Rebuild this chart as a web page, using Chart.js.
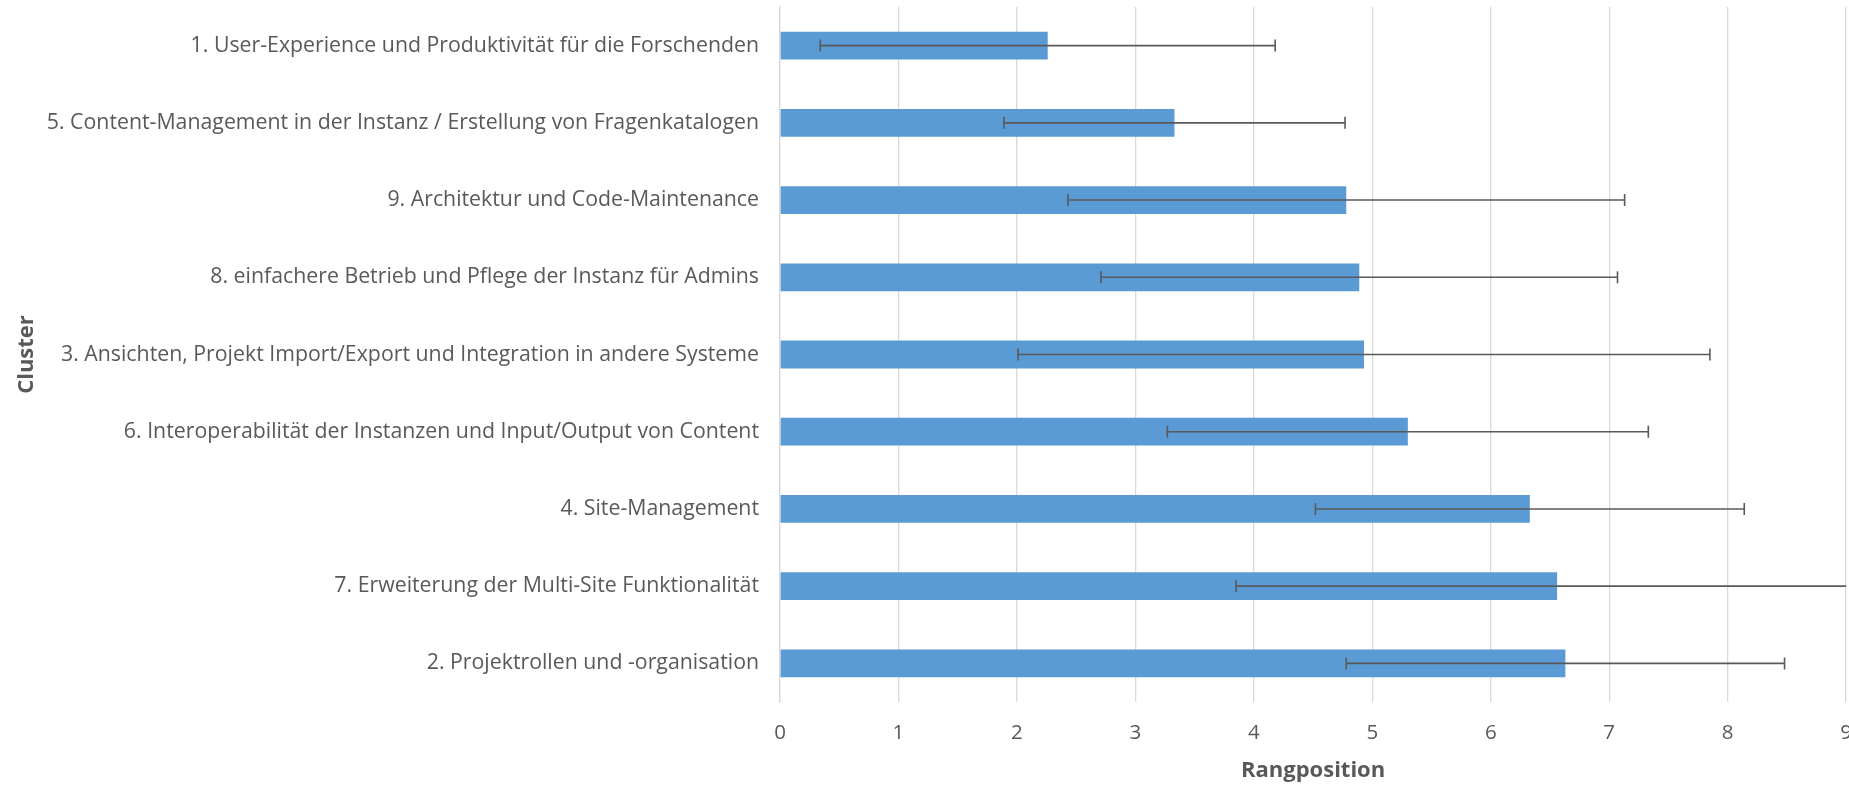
<!DOCTYPE html>
<html>
<head>
<meta charset="utf-8">
<script src="https://cdn.jsdelivr.net/npm/chart.js@4/dist/chart.umd.min.js"></script>
<style>
    html, body { margin: 0; padding: 0; background: #fff; overflow: hidden; }
    #wrap { position: relative; width: 1871px; height: 787px; }
</style>
</head>
<body>
<div id="wrap"><canvas id="js--chart"></canvas></div>
<script>
const labels = [
    "1. User-Experience und Produktivität für die Forschenden",
    "5. Content-Management in der Instanz / Erstellung von Fragenkatalogen",
    "9. Architektur und Code-Maintenance",
    "8. einfachere Betrieb und Pflege der Instanz für Admins",
    "3. Ansichten, Projekt Import/Export und Integration in andere Systeme",
    "6. Interoperabilität der Instanzen und Input/Output von Content",
    "4. Site-Management",
    "7. Erweiterung der Multi-Site Funktionalität",
    "2. Projektrollen und -organisation"
];

const means = [2.26, 3.33, 4.78, 4.89, 4.93, 5.30, 6.33, 6.56, 6.63];
const deviations = [1.92, 1.44, 2.35, 2.18, 2.92, 2.03, 1.81, 2.71, 1.85];

const xTicks = [0, 1, 2, 3, 4, 5, 6, 7, 8, 9];

const fontFamily = "'Open Sans', sans-serif";
const textColor = '#595959';

// error bars (mean +/- sd) drawn on top of the bars
const errorBars = {
    id: 'errorBars',
    afterDatasetsDraw(chart) {
        const ctx = chart.ctx;
        const area = chart.chartArea;
        const x = chart.scales.x;
        const meta = chart.getDatasetMeta(0);
        ctx.save();
        ctx.beginPath();
        ctx.rect(area.left, area.top - 10, area.right - area.left, area.bottom - area.top + 20);
        ctx.clip();
        ctx.strokeStyle = '#595959';
        ctx.lineWidth = 1.6;
        meta.data.forEach(function (bar, i) {
            const y = bar.y;
            const lo = x.getPixelForValue(means[i] - deviations[i]);
            const hi = x.getPixelForValue(means[i] + deviations[i]);
            ctx.beginPath();
            ctx.moveTo(lo, y);
            ctx.lineTo(hi, y);
            ctx.moveTo(lo, y - 6);
            ctx.lineTo(lo, y + 6);
            ctx.moveTo(hi, y - 6);
            ctx.lineTo(hi, y + 6);
            ctx.stroke();
        });
        ctx.restore();
    }
};

const data = {
    labels: labels,
    datasets: [{
        label: "Rangposition",
        data: means,
        backgroundColor: '#5b9bd5',
        borderWidth: 0,
        barPercentage: 0.36,
        categoryPercentage: 1
    }]
};

const config = {
    type: 'bar',
    data: data,
    options: {
        indexAxis: 'y',
        responsive: true,
        maintainAspectRatio: false,
        animation: false,
        layout: { padding: { top: 7, right: 0, bottom: 5, left: 14 } },
        plugins: {
            legend: { display: false },
            tooltip: { enabled: false }
        },
        scales: {
            x: {
                min: 0,
                max: 9,
                afterBuildTicks: function (axis) {
                    axis.ticks = xTicks.map(function (v) { return { value: v }; });
                },
                afterFit: function (scale) {
                    scale.height = 80;
                },
                grid: { color: '#d9d9d9', lineWidth: 1.3, drawTicks: false },
                border: { display: false },
                ticks: {
                    color: textColor,
                    padding: 19,
                    maxRotation: 0,
                    font: { family: fontFamily, size: 20.5 }
                },
                title: {
                    display: true,
                    text: 'Rangposition',
                    color: textColor,
                    padding: { top: 0, bottom: 0 },
                    font: { family: fontFamily, size: 22, weight: 'bold', lineHeight: 1 }
                }
            },
            y: {
                afterFit: function (scale) {
                    scale.width = 766;
                },
                grid: { display: false, drawTicks: true, tickLength: 21 },
                border: { display: true, color: '#d9d9d9', width: 1.3 },
                ticks: {
                    color: textColor,
                    padding: 0,
                    font: { family: fontFamily, size: 21.3, lineHeight: 0.65 }
                },
                title: {
                    display: true,
                    text: 'Cluster',
                    color: textColor,
                    padding: 0,
                    font: { family: fontFamily, size: 22, weight: 'bold' }
                }
            }
        }
    },
    plugins: [errorBars]
};

new Chart(document.getElementById("js--chart"), config);
</script>
</body>
</html>
